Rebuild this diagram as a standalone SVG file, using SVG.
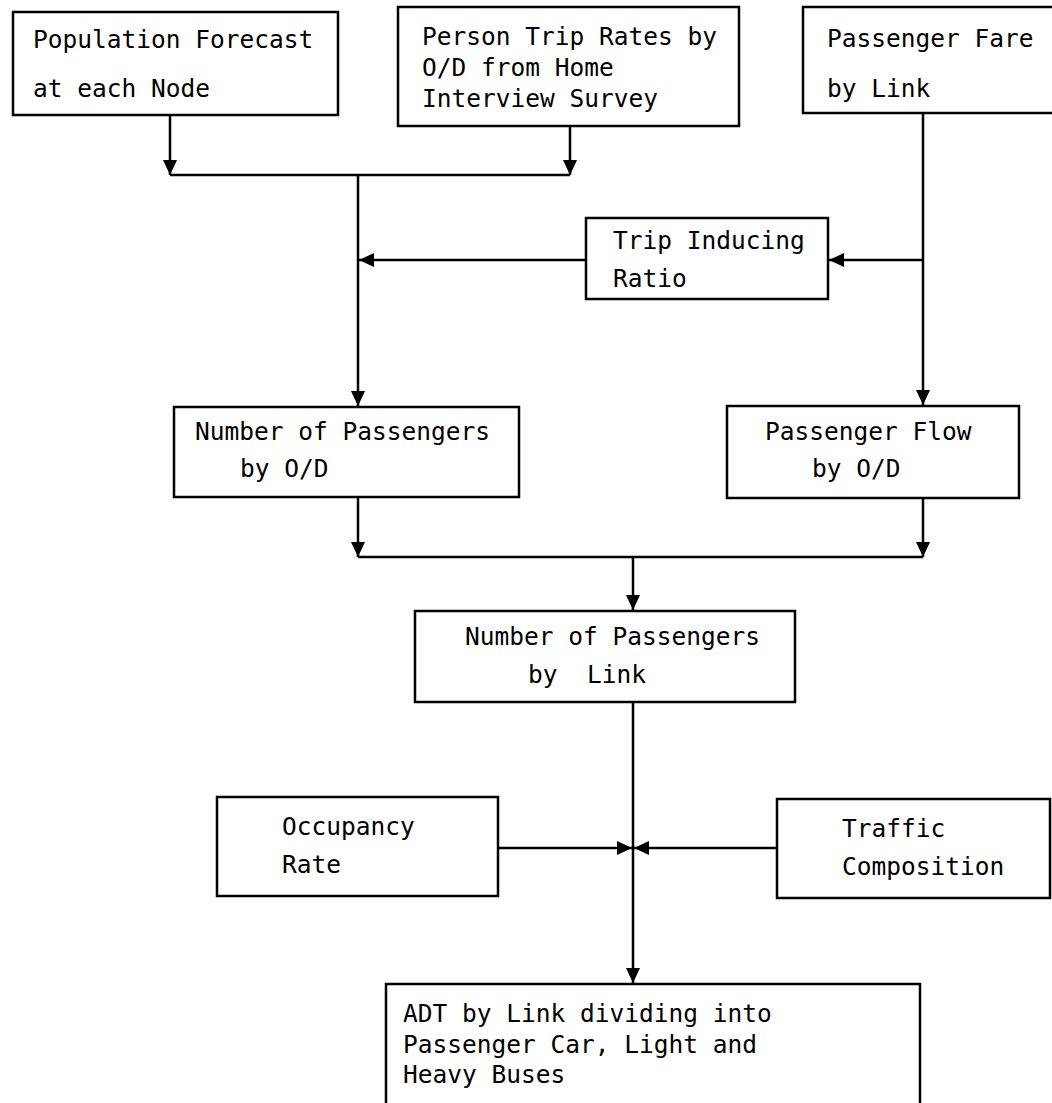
<svg xmlns="http://www.w3.org/2000/svg" width="1052" height="1103" viewBox="0 0 1052 1103">
<style>
.box{fill:#fff;stroke:#000;stroke-width:2.5}
.t{font-family:"DejaVu Sans Mono","Liberation Mono",monospace;font-size:24.5px;fill:#000;white-space:pre}
.c{fill:none;stroke:#000;stroke-width:2.5}
</style>
<defs>
<marker id="ah" markerUnits="userSpaceOnUse" markerWidth="16" markerHeight="14" refX="15" refY="7" orient="auto">
<path d="M0,0 L15,7 L0,14 z" fill="#000"/>
</marker>
</defs>
<rect width="1052" height="1103" fill="#fff"/>
<g id="connectors">
<path class="c" d="M170,115 V175" marker-end="url(#ah)"/>
<path class="c" d="M570,126 V175" marker-end="url(#ah)"/>
<path class="c" d="M170,175 H570"/>
<path class="c" d="M358,175 V406" marker-end="url(#ah)"/>
<path class="c" d="M586,260 H359" marker-end="url(#ah)"/>
<path class="c" d="M923,113 V405" marker-end="url(#ah)"/>
<path class="c" d="M923,260 H829" marker-end="url(#ah)"/>
<path class="c" d="M358,497 V557" marker-end="url(#ah)"/>
<path class="c" d="M923,498 V557" marker-end="url(#ah)"/>
<path class="c" d="M358,557 H923"/>
<path class="c" d="M633,557 V610" marker-end="url(#ah)"/>
<path class="c" d="M633,702 V983" marker-end="url(#ah)"/>
<path class="c" d="M498,848 H632" marker-end="url(#ah)"/>
<path class="c" d="M777,848 H634" marker-end="url(#ah)"/>
</g>
<g id="population">
<rect class="box" x="13" y="12" width="325" height="103"/>
<text class="t" x="33" y="48">Population Forecast</text>
<text class="t" x="33" y="97">at each Node</text>
</g>
<g id="triprates">
<rect class="box" x="398" y="7" width="341" height="119"/>
<text class="t" x="422" y="45">Person Trip Rates by</text>
<text class="t" x="422" y="76">O/D from Home</text>
<text class="t" x="422" y="107">Interview Survey</text>
</g>
<g id="fare">
<rect class="box" x="803" y="7" width="260" height="106"/>
<text class="t" x="827" y="47">Passenger Fare</text>
<text class="t" x="827" y="97">by Link</text>
</g>
<g id="inducing">
<rect class="box" x="586" y="218" width="242" height="81"/>
<text class="t" x="613" y="249">Trip Inducing</text>
<text class="t" x="613" y="287">Ratio</text>
</g>
<g id="passod">
<rect class="box" x="174" y="407" width="345" height="90"/>
<text class="t" x="195" y="440">Number of Passengers</text>
<text class="t" x="240" y="477">by O/D</text>
</g>
<g id="flowod">
<rect class="box" x="727" y="406" width="292" height="92"/>
<text class="t" x="765" y="440">Passenger Flow</text>
<text class="t" x="812" y="477">by O/D</text>
</g>
<g id="passlink">
<rect class="box" x="415" y="611" width="380" height="91"/>
<text class="t" x="465" y="645">Number of Passengers</text>
<text class="t" x="528" y="683">by  Link</text>
</g>
<g id="occupancy">
<rect class="box" x="217" y="797" width="281" height="99"/>
<text class="t" x="282" y="835">Occupancy</text>
<text class="t" x="282" y="873">Rate</text>
</g>
<g id="composition">
<rect class="box" x="777" y="799" width="273" height="99"/>
<text class="t" x="842" y="837">Traffic</text>
<text class="t" x="842" y="875">Composition</text>
</g>
<g id="adt">
<rect class="box" x="386" y="984" width="534" height="140"/>
<text class="t" x="403" y="1022">ADT by Link dividing into</text>
<text class="t" x="403" y="1053">Passenger Car, Light and</text>
<text class="t" x="403" y="1083">Heavy Buses</text>
</g>
</svg>
